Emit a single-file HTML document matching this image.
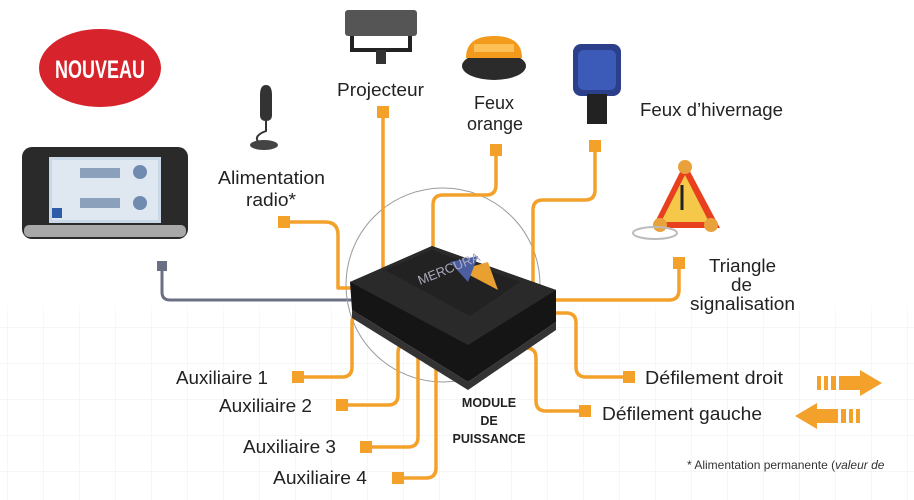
<!DOCTYPE html>
<html><head><meta charset="utf-8"><style>
html,body{margin:0;padding:0;background:#fff;}
svg{display:block;font-family:"Liberation Sans",sans-serif;}
</style></head><body>
<svg width="914" height="500" viewBox="0 0 914 500" xmlns="http://www.w3.org/2000/svg">
<defs>
<pattern id="g" width="36" height="36" patternUnits="userSpaceOnUse" x="8" y="4">
<path d="M36 0V36M0 36H36" stroke="#ececec" stroke-width="1" fill="none"/>
</pattern>
<linearGradient id="fade" x1="0" y1="0" x2="0" y2="1">
<stop offset="0" stop-color="#fff" stop-opacity="1"/><stop offset="1" stop-color="#fff" stop-opacity="0"/>
</linearGradient>
</defs>
<rect x="0" y="300" width="914" height="200" fill="url(#g)"/>
<rect x="0" y="290" width="914" height="40" fill="url(#fade)"/>

<!-- NOUVEAU -->
<ellipse cx="100" cy="68" rx="61" ry="39" fill="#d7232b"/>
<text x="55" y="78" font-size="25" font-weight="bold" fill="#fff" textLength="90" lengthAdjust="spacingAndGlyphs">NOUVEAU</text>

<!-- tablet -->
<rect x="22" y="147" width="166" height="92" rx="10" fill="#2a2a2a"/>
<rect x="24" y="225" width="162" height="12" rx="5" fill="#a8a8a8"/>
<rect x="49" y="157" width="112" height="66" fill="#c9d8e6"/>
<rect x="52" y="160" width="106" height="60" fill="#dfe8f0"/>
<rect x="80" y="168" width="40" height="10" fill="#8aa0bb"/>
<rect x="80" y="198" width="40" height="10" fill="#8aa0bb"/>
<circle cx="140" cy="172" r="7" fill="#6f8bb0"/><circle cx="140" cy="203" r="7" fill="#6f8bb0"/>
<rect x="52" y="208" width="10" height="10" fill="#2f5ca8"/>

<!-- gray line -->
<rect x="157" y="261" width="10" height="10" fill="#6b6f84"/>
<path d="M162 268V292Q162 300 170 300H365" stroke="#6b6f84" stroke-width="3" fill="none"/>

<!-- circle -->
<circle cx="443" cy="285" r="97" fill="none" stroke="#9a9a9a" stroke-width="1"/>

<!-- orange connectors -->
<g stroke="#f4a12b" stroke-width="3.5" fill="none" stroke-linejoin="round">
<path d="M284 222H325Q338 222 338 235V288H360"/>
<path d="M383 114V275"/>
<path d="M496 150V185Q496 195 486 195H443Q433 195 433 205V255"/>
<path d="M595 146V190Q595 200 585 200H543Q533 200 533 210V285"/>
<path d="M679 263V290Q679 300 669 300H550"/>
<path d="M550 313H566Q576 313 576 323V367Q576 377 586 377H628"/>
<path d="M505 348H526Q536 348 536 358V401Q536 411 546 411H585"/>
<path d="M298 377H342Q352 377 352 367V323Q352 313 362 313H375"/>
<path d="M342 405H388Q398 405 398 395V353Q398 343 408 343H415"/>
<path d="M366 447H408Q418 447 418 437V352"/>
<path d="M398 478H426Q436 478 436 468V368"/>
</g>
<g fill="#f4a12b">
<rect x="278" y="216" width="12" height="12"/>
<rect x="377" y="106" width="12" height="12"/>
<rect x="490" y="144" width="12" height="12"/>
<rect x="589" y="140" width="12" height="12"/>
<rect x="673" y="257" width="12" height="12"/>
<rect x="623" y="371" width="12" height="12"/>
<rect x="579" y="405" width="12" height="12"/>
<rect x="292" y="371" width="12" height="12"/>
<rect x="336" y="399" width="12" height="12"/>
<rect x="360" y="441" width="12" height="12"/>
<rect x="392" y="472" width="12" height="12"/>
</g>

<!-- module box -->
<polygon points="350,282 432,246 556,290 556,322 468,382 352,310" fill="#151515"/>
<polygon points="350,282 432,246 556,290 468,345" fill="#2a2a2a"/>
<polygon points="385,270 432,250 520,282 470,316" fill="#222"/>
<polygon points="460,270 488,262 498,290" fill="#e8a030"/>
<polygon points="450,262 478,256 468,282" fill="#4a5ea0"/>
<text x="420" y="285" font-size="13" fill="#aab" transform="rotate(-22 420 285)">MERCURA</text>
<polygon points="352,310 468,382 556,322 556,330 468,390 352,318" fill="#333"/>

<!-- device icons -->
<rect x="345" y="10" width="72" height="26" rx="3" fill="#555"/>
<path d="M352 36V52M410 36V52M352 50H410" stroke="#222" stroke-width="4" fill="none"/>
<rect x="376" y="50" width="10" height="14" fill="#333"/>
<path d="M266 85q-6 0 -6 10v20q0 6 6 6q6 0 6 -6v-20q0 -10 -6 -10z" fill="#333"/>
<path d="M266 121v10q-16 6 -4 14" stroke="#333" stroke-width="2" fill="none"/>
<ellipse cx="264" cy="145" rx="14" ry="5" fill="#444"/>
<ellipse cx="494" cy="66" rx="32" ry="14" fill="#2b2b2b"/>
<path d="M466 58q0 -22 28 -22q28 0 28 22z" fill="#f39a1c"/>
<rect x="474" y="44" width="40" height="8" fill="#ffd070" opacity=".7"/>
<rect x="573" y="44" width="48" height="52" rx="8" fill="#2b3f8a"/>
<rect x="578" y="50" width="38" height="40" rx="6" fill="#3c5bb8"/>
<rect x="587" y="94" width="20" height="30" fill="#222"/>
<polygon points="685,162 720,228 652,228" fill="#e8401f"/>
<polygon points="685,175 709,222 661,222" fill="#f5c84a"/>
<circle cx="685" cy="167" r="7" fill="#e9a23b"/><circle cx="660" cy="225" r="7" fill="#e9a23b"/><circle cx="711" cy="225" r="7" fill="#e9a23b"/>
<path d="M682 185v25" stroke="#222" stroke-width="3"/>
<ellipse cx="655" cy="233" rx="22" ry="6" fill="none" stroke="#bbb" stroke-width="2"/>

<!-- labels -->
<g font-size="18" fill="#222" lengthAdjust="spacingAndGlyphs">
<text x="337" y="96" textLength="87" lengthAdjust="spacingAndGlyphs">Projecteur</text>
<text x="218" y="184" textLength="107" lengthAdjust="spacingAndGlyphs">Alimentation</text>
<text x="246" y="206" textLength="50" lengthAdjust="spacingAndGlyphs">radio*</text>
<text x="474" y="109" textLength="40" lengthAdjust="spacingAndGlyphs">Feux</text>
<text x="467" y="130" textLength="56" lengthAdjust="spacingAndGlyphs">orange</text>
<text x="709" y="272" textLength="67" lengthAdjust="spacingAndGlyphs">Triangle</text>
<text x="731" y="291" textLength="21" lengthAdjust="spacingAndGlyphs">de</text>
<text x="690" y="310" textLength="105" lengthAdjust="spacingAndGlyphs">signalisation</text>
<text x="640" y="116" textLength="143" lengthAdjust="spacingAndGlyphs">Feux d’hivernage</text>
<text x="645" y="384" textLength="138" lengthAdjust="spacingAndGlyphs">Défilement droit</text>
<text x="602" y="420" textLength="160" lengthAdjust="spacingAndGlyphs">Défilement gauche</text>
<text x="176" y="384" textLength="92" lengthAdjust="spacingAndGlyphs">Auxiliaire 1</text>
<text x="219" y="412" textLength="93" lengthAdjust="spacingAndGlyphs">Auxiliaire 2</text>
<text x="243" y="453" textLength="93" lengthAdjust="spacingAndGlyphs">Auxiliaire 3</text>
<text x="273" y="484" textLength="94" lengthAdjust="spacingAndGlyphs">Auxiliaire 4</text>
</g>
<g font-size="12.5" font-weight="bold" fill="#222" text-anchor="middle">
<text x="489" y="407">MODULE</text>
<text x="489" y="425">DE</text>
<text x="489" y="443">PUISSANCE</text>
</g>
<text x="687" y="469" font-size="12" fill="#333">* Alimentation permanente (<tspan font-style="italic">valeur de</tspan></text>

<!-- arrows -->
<g fill="#f4a12b">
<rect x="817" y="376" width="4" height="14"/><rect x="824" y="376" width="4" height="14"/><rect x="831" y="376" width="5" height="14"/>
<polygon points="839,376 860,376 860,370 882,383 860,396 860,390 839,390"/>
<polygon points="795,416 817,403 817,409 838,409 838,423 817,423 817,429"/>
<rect x="841" y="409" width="5" height="14"/><rect x="849" y="409" width="4" height="14"/><rect x="856" y="409" width="4" height="14"/>
</g>
</svg>
</body></html>
